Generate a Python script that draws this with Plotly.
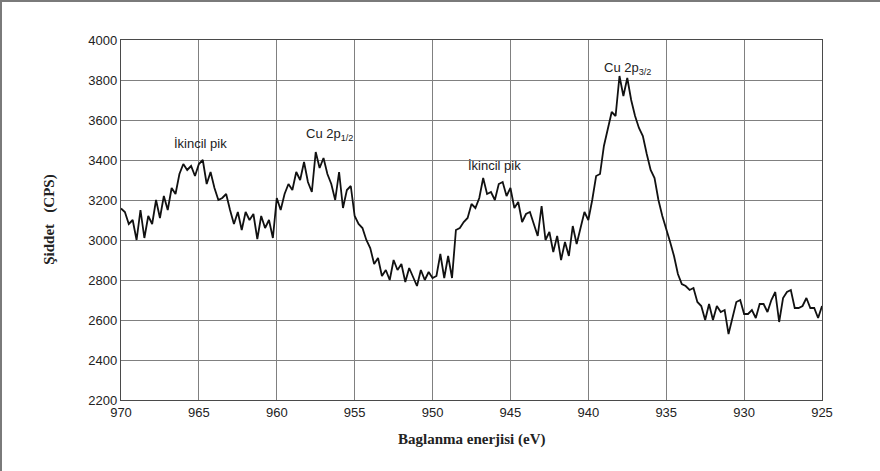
import plotly.graph_objects as go

# Binding-energy grid (eV), scanned from high to low in 0.25 eV steps
E_START, E_STEP = 970.0, -0.25

# Measured intensity (CPS), four readings per eV
intensity = [
    3158, 3140, 3080, 3100,   # 970
    3000, 3150, 3010, 3120,   # 969
    3080, 3200, 3110, 3220,   # 968
    3150, 3260, 3230, 3330,   # 967
    3380, 3350, 3370, 3320,   # 966
    3380, 3400, 3280, 3340,   # 965
    3260, 3200, 3210, 3230,   # 964
    3150, 3080, 3140, 3050,   # 963
    3140, 3100, 3130, 3005,   # 962
    3120, 3060, 3100, 3010,   # 961
    3210, 3150, 3230, 3280,   # 960
    3250, 3340, 3300, 3390,   # 959
    3290, 3240, 3440, 3360,   # 958
    3410, 3330, 3280, 3200,   # 957
    3340, 3160, 3250, 3270,   # 956
    3120, 3080, 3060, 3000,   # 955
    2960, 2880, 2910, 2820,   # 954
    2850, 2800, 2900, 2850,   # 953
    2880, 2790, 2860, 2810,   # 952
    2770, 2850, 2800, 2840,   # 951
    2810, 2820, 2930, 2810,   # 950
    2920, 2810, 3050, 3060,   # 949
    3090, 3110, 3180, 3160,   # 948
    3210, 3310, 3230, 3240,   # 947
    3200, 3280, 3290, 3220,   # 946
    3260, 3160, 3190, 3090,   # 945
    3130, 3140, 3080, 3020,   # 944
    3170, 3000, 3040, 2940,   # 943
    3020, 2900, 2990, 2920,   # 942
    3070, 2980, 3060, 3140,   # 941
    3100, 3200, 3320, 3330,   # 940
    3470, 3560, 3640, 3620,   # 939
    3820, 3720, 3810, 3700,   # 938
    3620, 3560, 3520, 3430,   # 937
    3350, 3310, 3200, 3120,   # 936
    3060, 2990, 2920, 2830,   # 935
    2780, 2770, 2750, 2760,   # 934
    2690, 2670, 2600, 2680,   # 933
    2600, 2670, 2640, 2650,   # 932
    2530, 2610, 2690, 2700,   # 931
    2630, 2630, 2650, 2610,   # 930
    2680, 2680, 2640, 2700,   # 929
    2740, 2590, 2710, 2740,   # 928
    2750, 2660, 2660, 2670,   # 927
    2710, 2660, 2660, 2610,   # 926
    2670,                     # 925
]
energy = [E_START + i * E_STEP for i in range(len(intensity))]

x_ticks = [970, 965, 960, 955, 950, 945, 940, 935, 930, 925]
y_ticks = [2200, 2400, 2600, 2800, 3000, 3200, 3400, 3600, 3800, 4000]

# Peak labels: (energy, intensity, text)
peak_labels = [
    (964.9, 3485, "İkincil pik"),
    (956.6, 3530, "Cu 2p<sub>1/2</sub>"),
    (946.0, 3375, "İkincil pik"),
    (937.5, 3860, "Cu 2p<sub>3/2</sub>"),
]

fig = go.Figure()
fig.add_trace(go.Scatter(
    x=energy, y=intensity, mode="lines",
    line=dict(color="#111111", width=1.8),
    showlegend=False, hoverinfo="skip",
))

axis_common = dict(
    showgrid=True, gridcolor="#808080", gridwidth=1.2,
    showline=True, linecolor="#4a4a4a", linewidth=1.4, mirror=True,
    zeroline=False, ticks="",
    tickfont=dict(family="Liberation Sans", size=13, color="#222222"),
)

fig.update_xaxes(range=[970, 925], tickvals=x_ticks, ticktext=[str(v) for v in x_ticks],
                 **axis_common)
fig.update_yaxes(range=[2200, 4000], tickvals=y_ticks, ticktext=[str(v) for v in y_ticks],
                 **axis_common)

for ex, iy, txt in peak_labels:
    fig.add_annotation(x=ex, y=iy, text=txt, showarrow=False,
                       font=dict(family="Liberation Sans", size=13, color="#222222"))

# Axis titles
fig.add_annotation(xref="paper", yref="paper", x=0.5, y=-0.11, yanchor="middle",
                   text="<b>Baglanma enerjisi (eV)</b>", showarrow=False,
                   font=dict(family="Liberation Serif", size=15, color="#222222"))
fig.add_annotation(xref="paper", yref="paper", x=-0.118, y=0.5, textangle=-90,
                   text="<b>Şiddet   (CPS)</b>", showarrow=False,
                   font=dict(family="Liberation Serif", size=15, color="#222222"))

# Outer frame along left and top edges of the page
fig.add_shape(type="line", xref="paper", yref="paper",
              x0=-120/701, x1=-120/701, y0=1 + 39/360, y1=-71/360,
              line=dict(color="#7a7a7a", width=2))
fig.add_shape(type="line", xref="paper", yref="paper",
              x0=-121/701, x1=1 + 58/701, y0=1 + 39/360, y1=1 + 39/360,
              line=dict(color="#7a7a7a", width=2))

fig.update_layout(
    width=880, height=471,
    margin=dict(l=121, r=58, t=40, b=71),
    paper_bgcolor="white", plot_bgcolor="white",
)

fig.write_html("out.html")
